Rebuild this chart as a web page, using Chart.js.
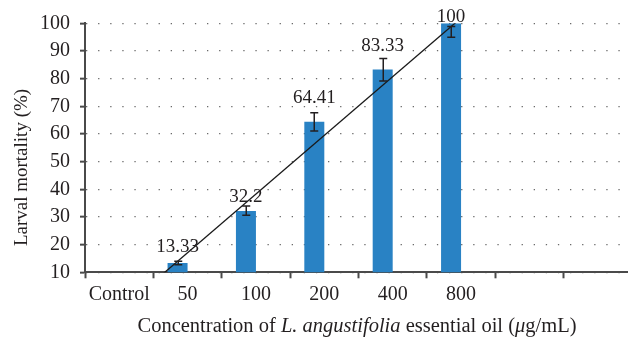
<!DOCTYPE html>
<html>
<head>
<meta charset="utf-8">
<script src="https://cdn.jsdelivr.net/npm/chart.js@4/dist/chart.umd.min.js"></script>
<style>
  html, body { margin: 0; padding: 0; background: #fff; overflow: hidden; }
  #wrap { width: 628px; height: 339px; overflow: hidden; }
  canvas { display: block; }
</style>
</head>
<body>
<div id="wrap"><canvas id="chart" width="632" height="339"></canvas></div>
<script>
// Larval mortality by concentration of L. angustifolia essential oil
const concentrations = ['Control', '50', '100', '200', '400', '800', '', ''];
const mortality      = [0, 13.33, 32.2, 64.41, 83.33, 100, null, null];
// error bar extents (low / high) for each bar
const errLow  = [null, 12.7, 30.6, 61.1, 79.1, 95.0, null, null];
const errHigh = [null, 14.0, 34.0, 67.7, 87.3, 98.8, null, null];
// linear trendline end values at Control and 800
const trendline = [-4.14, null, null, null, null, 101.92, null, null];
const yMin = 10, yMax = 100, yStep = 10;

// value labels sit this many pixels above their bar tops
const labelLift = [0, 11, 9, 18.5, 18, 1, 0, 0];

const SERIF = "'Liberation Serif', 'Times New Roman', serif";
const INK = '#231f20';
const AXIS = '#4a4a4a';
const BAR = '#2982c4';

const xTitleParts = [
  ['Concentration of ', false],
  ['L. angustifolia', true],
  [' essential oil (', false],
  ['\u03bc', true],
  ['g/mL)', false]
];
const yTitle = 'Larval mortality (%)';

const annotate = {
  id: 'annotate',
  afterDatasetsDraw(chart) {
    const ctx = chart.ctx;
    const ys = chart.scales.y;
    const bars = chart.getDatasetMeta(0).data;
    ctx.save();
    // error bars
    ctx.strokeStyle = INK;
    ctx.lineWidth = 1.5;
    bars.forEach((bar, i) => {
      if (errLow[i] == null) return;
      const x = Math.round(bar.x) + 0.25;
      const y1 = ys.getPixelForValue(errLow[i]);
      const y2 = ys.getPixelForValue(errHigh[i]);
      ctx.beginPath();
      ctx.moveTo(x, y1); ctx.lineTo(x, y2);
      ctx.moveTo(x - 4, y1); ctx.lineTo(x + 4, y1);
      ctx.moveTo(x - 4, y2); ctx.lineTo(x + 4, y2);
      ctx.stroke();
    });
    // value labels
    ctx.fillStyle = INK;
    ctx.font = '19px ' + SERIF;
    ctx.textAlign = 'center';
    ctx.textBaseline = 'alphabetic';
    bars.forEach((bar, i) => {
      const v = mortality[i];
      if (v == null || v < yMin) return;
      ctx.fillText(String(v), bar.x, ys.getPixelForValue(v) - labelLift[i]);
    });
    ctx.restore();
  },
  afterDraw(chart) {
    const ctx = chart.ctx;
    ctx.save();
    ctx.fillStyle = INK;
    ctx.textBaseline = 'alphabetic';
    // x axis title with italic species name
    const size = 20.5;
    let total = 0;
    const widths = xTitleParts.map(([t, it]) => {
      ctx.font = (it ? 'italic ' : '') + size + 'px ' + SERIF;
      const w = ctx.measureText(t).width;
      total += w;
      return w;
    });
    let x = 357 - total / 2;
    ctx.textAlign = 'left';
    xTitleParts.forEach(([t, it], k) => {
      ctx.font = (it ? 'italic ' : '') + size + 'px ' + SERIF;
      ctx.fillText(t, x, 331.5);
      x += widths[k];
    });
    // y axis title
    ctx.translate(26.5, 167.5);
    ctx.rotate(-Math.PI / 2);
    ctx.textAlign = 'center';
    ctx.font = '19px ' + SERIF;
    ctx.fillText(yTitle, 0, 0);
    ctx.restore();
  }
};

new Chart(document.getElementById('chart'), {
  data: {
    labels: concentrations,
    datasets: [
      {
        type: 'bar',
        label: 'Mortality',
        data: mortality,
        backgroundColor: BAR,
        borderWidth: 0,
        categoryPercentage: 0.585,
        barPercentage: 1.0,
        order: 2
      },
      {
        // empty companion series: keeps each bar in the left half of its slot
        type: 'bar',
        label: 'Series 2',
        data: concentrations.map(() => null),
        backgroundColor: BAR,
        categoryPercentage: 0.585,
        barPercentage: 1.0,
        order: 3
      },
      {
        type: 'line',
        label: 'Linear trend',
        data: trendline,
        spanGaps: true,
        borderColor: '#1a1a1a',
        borderWidth: 1.3,
        pointRadius: 0,
        fill: false,
        order: 1
      }
    ]
  },
  options: {
    responsive: false,
    animation: false,
    devicePixelRatio: 1,
    layout: { padding: { top: 23.3, right: 0, bottom: 0, left: 0 } },
    plugins: { legend: { display: false }, tooltip: { enabled: false } },
    scales: {
      x: {
        offset: true,
        grid: {
          display: true, offset: true, drawOnChartArea: false, drawTicks: true,
          tickLength: 6, tickColor: AXIS, tickWidth: 2
        },
        border: { display: true, color: AXIS, width: 2 },
        ticks: {
          color: INK, font: { family: SERIF, size: 20 }, padding: 4,
          maxRotation: 0, autoSkip: false
        },
        afterFit: s => { s.height = 66.7; }
      },
      y: {
        min: yMin, max: yMax,
        grid: {
          color: '#6a6a6a', lineWidth: 1.3,
          tickLength: 5, tickColor: AXIS, tickWidth: 2
        },
        border: { display: true, color: AXIS, width: 2, dash: [1.3, 10.8] },
        ticks: {
          stepSize: yStep, color: INK, font: { family: SERIF, size: 20 }, padding: 10
        },
        afterFit: s => { s.width = 85; }
      }
    }
  },
  plugins: [annotate]
});
</script>
</body>
</html>
